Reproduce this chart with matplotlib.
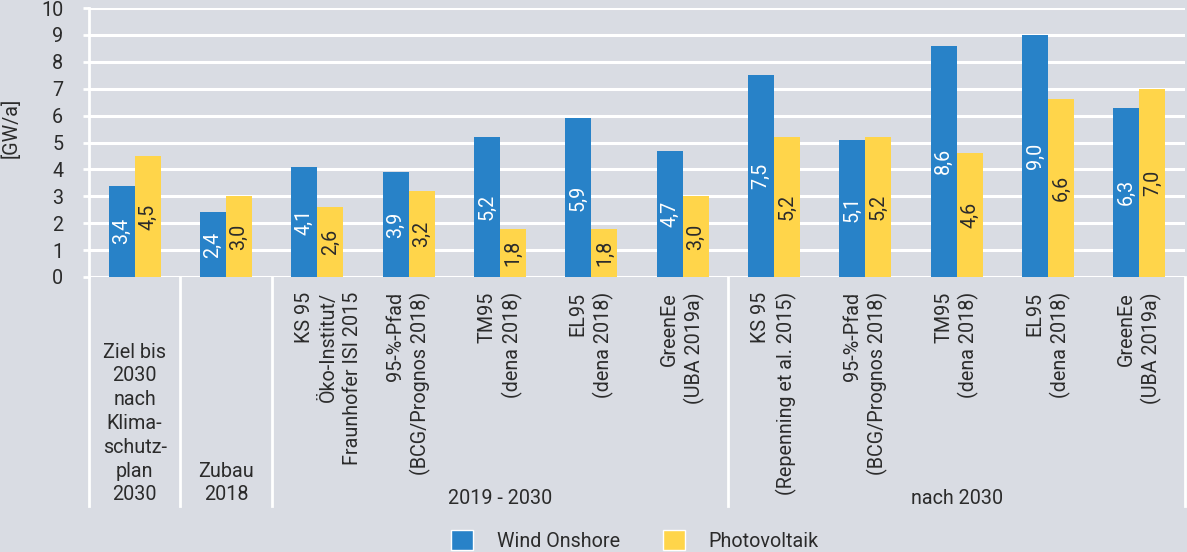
import numpy as np
import matplotlib
matplotlib.use("Agg")
from matplotlib import pyplot as plt
from matplotlib.patches import Patch
import matplotlib.transforms as mtransforms

# Data
labels = ["Ziel bis\n2030\nnach\nKlima-\nschutz-\nplan\n2030",
          "Zubau\n2018",
          "KS 95\nÖko-Institut/\nFraunhofer ISI 2015",
          "95-%-Pfad\n(BCG/Prognos 2018)",
          "TM95\n(dena 2018)",
          "EL95\n(dena 2018)",
          "GreenEe\n(UBA 2019a)",
          "KS 95\n(Repenning et al. 2015)",
          "95-%-Pfad\n(BCG/Prognos 2018)",
          "TM95\n(dena 2018)",
          "EL95\n(dena 2018)",
          "GreenEe\n(UBA 2019a)"]
wind = [3.4, 2.4, 4.1, 3.9, 5.2, 5.9, 4.7, 7.5, 5.1, 8.6, 9.0, 6.3]
pv = [4.5, 3.0, 2.6, 3.2, 1.8, 1.8, 3.0, 5.2, 5.2, 4.6, 6.6, 7.0]
periods = ["2019 - 2030", "nach 2030"]

bg = "#d9dce3"
blue = "#2882c8"
yellow = "#ffd54a"
dark = "#2b2b2b"
fs = 14.2

plt.rcParams['font.family'] = ['Roboto', 'DejaVu Sans']
plt.rcParams['font.size'] = fs

fig = plt.figure(figsize=(11.87, 5.52), dpi=100, facecolor=bg)
ax = fig.add_axes([89/1187, 1 - 277/552, 1096/1187, 269/552], facecolor=bg)

x = np.arange(len(labels))
w = 0.285
b1 = ax.bar(x - w/2, wind, w, color=blue, zorder=3)
b2 = ax.bar(x + w/2, pv, w, color=yellow, zorder=3)

# values inside the bars
for bars, vals, col in [(b1, wind, "white"), (b2, pv, dark)]:
    for r, v in zip(bars, vals):
        ax.text(r.get_x() + r.get_width()/2, v/2, f"{v:.1f}".replace(".", ","),
                rotation=90, ha="center", va="center", color=col, fontsize=fs, zorder=4)

ax.set_xlim(-0.5, len(labels) - 0.5)
ax.set_ylim(0, 10)
ax.set_yticks(range(0, 11))
ax.yaxis.grid(True, color="white", linewidth=2.2, zorder=1)
ax.set_axisbelow(True)
ax.tick_params(axis="y", length=4.5, width=2, color="white", pad=14, labelcolor=dark, labelsize=fs)
ax.set_xticks([])
for s in ["top", "right", "bottom"]:
    ax.spines[s].set_visible(False)
ax.spines["left"].set_color("white")
ax.spines["left"].set_linewidth(2)

ax.set_ylabel("[GW/a]", color=dark, fontsize=fs, va="center")
ax.yaxis.set_label_coords(-0.071, 0.554)

# category labels below the axis
trans = mtransforms.blended_transform_factory(ax.transData, ax.transAxes)
for i, lab in enumerate(labels):
    if i < 2:
        ax.text(i, -0.845, lab, transform=trans, ha="center", va="bottom",
                color=dark, fontsize=fs, linespacing=1.32)
    else:
        dx = 0.12 if i == 2 else 0
        ax.text(i + dx, -0.056, lab, transform=trans, ha="center", va="top", rotation=90,
                multialignment="right", color=dark, fontsize=fs, linespacing=1.32)

ax.text(4, -0.822, periods[0], transform=trans, ha="center", va="center", color=dark, fontsize=fs)
ax.text(9, -0.822, periods[1], transform=trans, ha="center", va="center", color=dark, fontsize=fs)

for sx in [-0.5, 0.5, 1.5, 6.5, 11.5]:
    ax.plot([sx, sx], [0, -0.85], transform=trans, color="white", linewidth=2, clip_on=False)

handles = [Patch(facecolor=blue, edgecolor="white", label="Wind Onshore"),
           Patch(facecolor=yellow, edgecolor="white", label="Photovoltaik")]
fig.legend(handles=handles, loc="upper center", bbox_to_anchor=(0.535, 0.072), ncol=2,
           frameon=False, fontsize=fs, handlelength=1.1, handleheight=1.2,
           handletextpad=1.2, columnspacing=2.2, labelcolor=dark)

fig.savefig("out.png", dpi=100, facecolor=bg)
